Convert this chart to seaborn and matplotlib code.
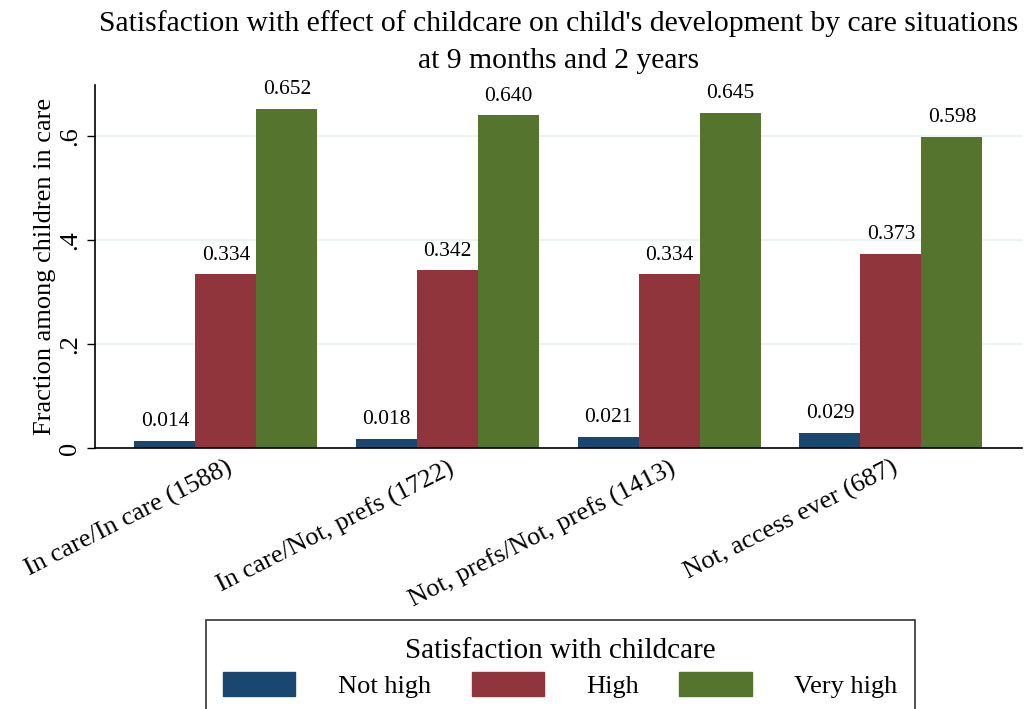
import matplotlib
matplotlib.use('Agg')
import matplotlib.pyplot as plt
import seaborn as sns
import pandas as pd

# Dados
categories = ["In care/In care (1588)", "In care/Not, prefs (1722)",
              "Not, prefs/Not, prefs (1413)", "Not, access ever (687)"]
groups = ["Not high", "High", "Very high"]
not_high = [0.014, 0.018, 0.021, 0.029]
high = [0.334, 0.342, 0.334, 0.373]
very_high = [0.652, 0.640, 0.645, 0.598]
yticks = [0, 0.2, 0.4, 0.6]
ytick_labels = ["0", ".2", ".4", ".6"]
colors = ["#1a476f", "#90353b", "#55752f"]

df = pd.DataFrame({
    "category": categories * 3,
    "group": [g for g in groups for _ in categories],
    "value": not_high + high + very_high,
})

sns.set_style("white")
plt.rcParams['font.family'] = ['Liberation Serif', 'DejaVu Serif']
plt.rcParams['text.color'] = 'black'
plt.rcParams['axes.labelcolor'] = 'black'
plt.rcParams['xtick.color'] = 'black'
plt.rcParams['ytick.color'] = 'black'

fig = plt.figure(figsize=(10.24, 7.09), dpi=100)
ax = fig.add_axes([0.0928, 0.368, 0.905, 0.512])

sns.barplot(data=df, x="category", y="value", hue="group", order=categories,
            hue_order=groups, palette=colors, width=0.825, saturation=1,
            linewidth=0, ax=ax, legend=False)

for cont in ax.containers:
    ax.bar_label(cont, fmt="%.3f", padding=7, fontsize=15.5, color="black")

ax.set_xlim(-0.59, 3.59)
ax.set_ylim(0, 0.698)
ax.set_yticks(yticks)
ax.set_yticklabels(ytick_labels, rotation=90, va="center", fontsize=19)
ax.yaxis.grid(True, color="#eaf2f3", linewidth=1.5)
ax.set_axisbelow(True)
ax.tick_params(axis="y", length=6, width=1, color="black", left=True, pad=4)
ax.tick_params(axis="x", length=0, pad=6)
plt.setp(ax.get_xticklabels(), rotation=27, ha="right", rotation_mode="anchor", fontsize=19)

ax.set_xlabel("")
ax.set_ylabel("Fraction among children in care", fontsize=19, labelpad=2)
ax.set_title("Satisfaction with effect of childcare on child's development by care situations\n"
             "at 9 months and 2 years", fontsize=21.3, pad=12, linespacing=1.55)

for side in ["top", "right"]:
    ax.spines[side].set_visible(False)
for side in ["left", "bottom"]:
    ax.spines[side].set_color("black")
    ax.spines[side].set_linewidth(1.2)

handles = [plt.Rectangle((0, 0), 1, 1, color=c) for c in colors]
leg = fig.legend(handles, groups, title="Satisfaction with childcare", ncol=3,
                 loc="upper center", bbox_to_anchor=(0.547, 1 - 620 / 709),
                 borderaxespad=0, fontsize=19, title_fontsize=21, frameon=True,
                 fancybox=False, edgecolor="black", handlelength=2.73,
                 handleheight=1.05, columnspacing=1.55, borderpad=0.67,
                 handletextpad=1.6, labelspacing=0.3)
leg.get_frame().set_linewidth(1.2)

fig.savefig("out.png", dpi=100, facecolor="white")
plt.close(fig)
